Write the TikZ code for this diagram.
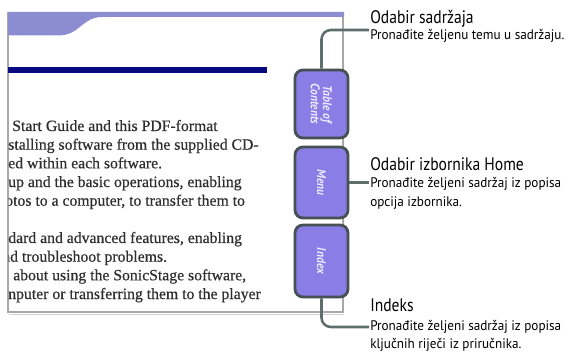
\documentclass[tikz,border=0pt]{standalone}
\usepackage{fontspec}
\setmainfont{Liberation Serif}
\newfontfamily\bodyfont[FakeBold=0.4]{Liberation Serif}
\newfontfamily\ttlfont[FakeStretch=0.86]{PT Sans}
\newfontfamily\dscfont[FakeStretch=0.95]{PT Sans}
\newfontfamily\tabfont[FakeStretch=0.92]{PT Sans}
\definecolor{bandpurple}{HTML}{8C8CD0}
\definecolor{navyline}{HTML}{0A0A80}
\definecolor{tabfill}{HTML}{8A7DE6}
\definecolor{tabborder}{HTML}{465154}
\definecolor{connc}{HTML}{5E6E6C}
\definecolor{framec}{HTML}{A8A8A8}
\definecolor{bodytext}{HTML}{2E2E2E}
\definecolor{tabtext}{HTML}{ECE8FF}
\tikzset{
  lefttxt/.style={anchor=base west, inner sep=0pt, text=bodytext, font=\bodyfont\fontsize{11.8}{13}\selectfont},
  tabbox/.style={draw=tabborder, line width=2.1pt, fill=tabfill, rounded corners=6pt, minimum width=39.75pt, inner sep=0pt},
  tablbl/.style={rotate=-90, text=tabtext, align=center, inner sep=0pt, font=\tabfont\bfseries\itshape\fontsize{9.4}{9.2}\selectfont},
  conn/.style={draw=connc, line width=1.9pt, rounded corners=7pt},
  ttl/.style={anchor=base west, inner sep=0pt, font=\ttlfont\fontsize{13.6}{15}\selectfont},
  dsc/.style={anchor=base west, inner sep=0pt, font=\dscfont\fontsize{10.4}{12}\selectfont},
}
\begin{document}
\begin{tikzpicture}[x=0.75pt,y=-0.75pt]
\useasboundingbox[fill=white] (0,0) rectangle (579,353);
% page frame
\draw[draw=framec, line width=0.9pt] (8,12) -- (8,312) -- (343,312) -- (343,12);
\draw[draw=framec!50, line width=0.6pt] (9,314) -- (344,314);
% top band
\fill[bandpurple] (8,12) -- (344,12) -- (344,17) -- (102,17)
  .. controls (82,17) and (80,35.5) .. (58,35.5) -- (8,35.5) -- cycle;
% navy rule
\fill[navyline] (8,67.5) rectangle (267,73);
% body text, clipped by the page
\begin{scope}
\clip (8.5,12) rectangle (342,311);
\node[lefttxt] (l1) at (12,131) {Start Guide and this PDF-format};
\node[lefttxt] (l2) at (8,149.7) {stalling software from the supplied CD-};
\node[lefttxt] (l3) at (8,168.3) {ed within each software.};
\node[lefttxt] (l4) at (8,187) {up and the basic operations, enabling};
\node[lefttxt] (l5) at (5,205.7) {otos to a computer, to transfer them to};
\node[lefttxt] (l7) at (8,243) {dard and advanced features, enabling};
\node[lefttxt] (l8) at (2,261.7) {nd troubleshoot problems.};
\node[lefttxt] (l9) at (13,280.3) {about using the SonicStage software,};
\node[lefttxt] (l10) at (8,299) {nputer or transferring them to the player};
\end{scope}
% tabs
\node[tabbox, minimum height=51pt] (toc) at (321.5,104) {};
\node[tabbox, minimum height=53.25pt] (menu) at (321.5,182.5) {};
\node[tabbox, minimum height=54pt] (idx) at (321.5,261) {};
\node[tablbl] (tocl) at (toc.center) {Table of\\Contents};
\node[tablbl] (menul) at (menu.center) {Menu};
\node[tablbl] (idxl) at (idx.center) {Index};
% connector ends
\coordinate (c1) at (369,30);
\coordinate (c2) at (369,182.5);
\coordinate (c3) at (369,327);
\draw[conn] (toc.north) |- (c1);
\draw[conn] (menu.east) -- (c2);
\draw[conn] (idx.south) |- (c3);
% right-hand texts
\node[ttl] (t1) at (370,24) {Odabir sadržaja};
\node[dsc] (d1) at (370,39.5) {Pronađite željenu temu u sadržaju.};
\node[ttl] (t2) at (370,171) {Odabir izbornika Home};
\node[dsc] (d2) at (370,187) {Pronađite željeni sadržaj iz popisa};
\node[dsc] (d2b) at (370,206) {opcija izbornika.};
\node[ttl] (t3) at (370,311) {Indeks};
\node[dsc] (d3) at (370,330) {Pronađite željeni sadržaj iz popisa};
\node[dsc] (d3b) at (370,348) {ključnih riječi iz priručnika.};
\end{tikzpicture}
\end{document}
